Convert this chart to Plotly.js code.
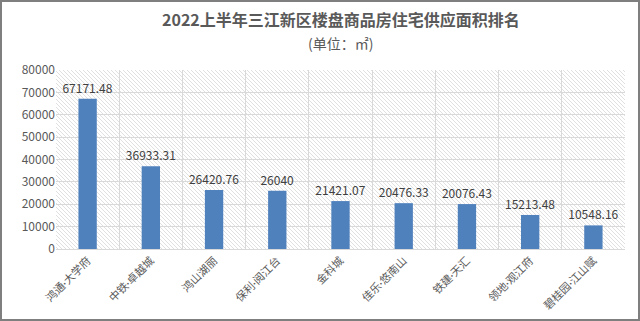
<!DOCTYPE html>
<html><head><meta charset="utf-8">
<script src="https://cdn.plot.ly/plotly-3.0.1.min.js"></script>
<style>html,body{margin:0;padding:0;background:#fff}#c{width:640px;height:321px}</style>
</head><body><div id="c"></div>
<script>
const categories = ["鸿通·大学府","中铁·卓越城","鸿山湖丽","保利·阅江台","金科城","佳乐·悠南山","铁建·天汇","领地·观江府","碧桂园·江山赋"];
const values = [67171.48, 36933.31, 26420.76, 26040, 21421.07, 20476.33, 20076.43, 15213.48, 10548.16];
const valueLabels = ["67171.48","36933.31","26420.76","26040","21421.07","20476.33","20076.43","15213.48","10548.16"];
const yTicks = [0,10000,20000,30000,40000,50000,60000,70000,80000];

// decorative hatch of the plot area (style only, in paper coordinates)
const W = 569, H = 179;
const shapes = [];
for (let k = 2; k < W + H; k += 4) {
  const pxA = Math.max(0, k - H), pxB = Math.min(W, k);
  if (pxB <= pxA) continue;
  shapes.push({type: 'line', xref: 'paper', yref: 'paper', layer: 'below',
    x0: pxA / W, y0: (k - pxA) / H, x1: pxB / W, y1: (k - pxB) / H,
    line: {color: '#dcdcdc', width: 0.9}});
}
shapes.push({type: 'rect', xref: 'paper', yref: 'paper', x0: -55/569, x1: 1 + 14/569, y0: -71/179, y1: 1 + 69/179,
  line: {color: '#7f7f7f', width: 2}, fillcolor: 'rgba(0,0,0,0)'});

const cjk = 'Noto Sans CJK SC, sans-serif';
Plotly.newPlot('c', [{
  type: 'bar', x: categories, y: values, text: valueLabels,
  textposition: 'outside', cliponaxis: false, constraintext: 'none', textangle: 0,
  textfont: {family: cjk, size: 12, color: '#404040'},
  marker: {color: '#4f81bd'}, width: 0.29, hoverinfo: 'none'
}], {
  width: 640, height: 321,
  margin: {l: 56, r: 15, t: 70, b: 72},
  paper_bgcolor: '#ffffff', plot_bgcolor: 'rgba(0,0,0,0)',
  font: {family: cjk, color: '#595959'},
  annotations: [
    {text: '<b>2022上半年三江新区楼盘商品房住宅供应面积排名</b>', xref: 'paper', yref: 'paper',
     x: 0.5, y: 1 + 51/179, xanchor: 'center', yanchor: 'middle', showarrow: false,
     font: {size: 16, color: '#595959', family: cjk}},
    {text: '(单位：㎡)', xref: 'paper', yref: 'paper',
     x: 0.5, y: 1 + 27/179, xanchor: 'center', yanchor: 'middle', showarrow: false,
     font: {size: 14, color: '#595959', family: cjk}}
  ],
  xaxis: {type: 'category', tickson: 'boundaries', showgrid: true, gridcolor: '#d9d9d9', gridwidth: 1,
    tickangle: -45, tickfont: {size: 11, color: '#595959', family: 'Lato, Noto Sans CJK SC, sans-serif'},
    showline: true, linecolor: '#d9d9d9', ticks: '', fixedrange: true},
  yaxis: {range: [0, 80000], tickvals: yTicks, ticktext: yTicks.map(String), showgrid: true,
    gridcolor: '#d9d9d9', tickfont: {size: 12, color: '#595959'}, zeroline: false, ticks: '',
    showline: false, fixedrange: true},
  shapes: shapes,
  showlegend: false
}, {staticPlot: true});
</script></body></html>
